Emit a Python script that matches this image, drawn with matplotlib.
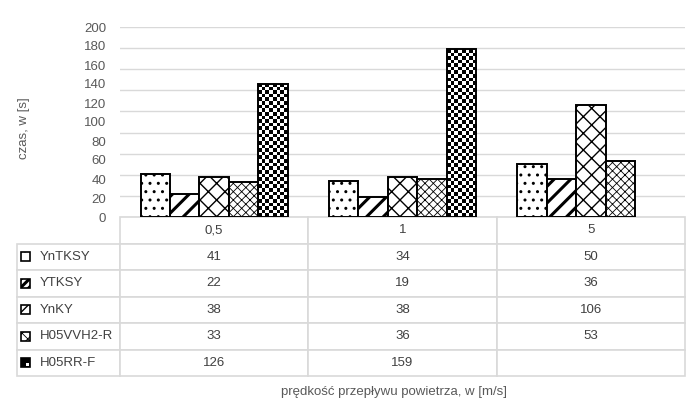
import matplotlib
matplotlib.use("Agg")
import matplotlib.pyplot as plt
import numpy as np
from matplotlib.patches import Rectangle
from matplotlib.table import Table

plt.rcParams['font.family'] = ['Liberation Sans', 'DejaVu Sans']

speeds = ["0,5", "1", "5"]
cables = ["YnTKSY", "YTKSY", "YnKY", "H05VVH2-R", "H05RR-F"]
yntksy = [41, 34, 50]
ytksy = [22, 19, 36]
ynky = [38, 38, 106]
h05vvh2 = [33, 36, 53]
h05rrf = [126, 159, np.nan]
series = [yntksy, ytksy, ynky, h05vvh2, h05rrf]

# tick labels as printed on the original (squeezed 0..200 over the 0..180 grid)
ytick_labels = ["0", "20", "40", "60", "80", "100", "120", "140", "160", "180", "200"]

hatches = ["..", "//", "xx", "xxxx", None]
hatch_lw = [1.0, 2.2, 1.0, 0.6, 1.0]
key_hatches = [".", "////", "/", "xxx", None]

grey = "#595959"
grid_c = "#d9d9d9"
fs = 9.5

fig = plt.figure(figsize=(7, 4.2), dpi=100)
ax = fig.add_axes([120 / 700, 1 - 217 / 420, 565 / 700, 190 / 420])

x = np.arange(len(speeds))
group_w = 0.78
bw = group_w / len(cables)

for g in np.arange(0, 181, 20):
    ax.axhline(g, color=grid_c, lw=1, zorder=0)

for i, (vals, h) in enumerate(zip(series, hatches)):
    xs = x - group_w / 2 + bw * (i + 0.5)
    if h is None:
        bars = ax.bar(xs, vals, bw, facecolor="none", edgecolor="black",
                      lw=1.4, zorder=3)
        for b in bars:
            ht = b.get_height()
            if not np.isfinite(ht) or ht <= 0:
                continue
            nr = max(int(round(ht / 3.4)), 1)
            checker = np.indices((nr, 8)).sum(axis=0) % 2
            im = ax.imshow(checker, cmap="gray", extent=[b.get_x(), b.get_x() + b.get_width(), 0, ht],
                           aspect="auto", interpolation="nearest", zorder=2.5)
            im.set_clip_path(b)
    else:
        bars = ax.bar(xs, vals, bw, facecolor="white", edgecolor="black",
                      lw=1.4, hatch=h, zorder=3)
        for b in bars:
            if hasattr(b, "set_hatch_linewidth"):
                b.set_hatch_linewidth(hatch_lw[i])

ax.set_xlim(-0.5, 2.5)
ax.set_ylim(0, 180)
ax.set_yticks(np.linspace(0, 180, len(ytick_labels)))
ax.set_yticklabels(ytick_labels)
ax.tick_params(axis="y", length=0, pad=10, labelsize=fs, labelcolor=grey)
ax.set_xticks([])
for s in ax.spines.values():
    s.set_visible(False)

# data table under the plot (bbox covers the value cells only)
tbl = Table(ax, bbox=[0, -159 / 190, 1, 159 / 190])
lab_w = 103 / 565
col_w = 1 / 3
row_hh = 1 / 6
for j, sp in enumerate(speeds):
    tbl.add_cell(0, j, col_w, row_hh, text=sp, loc="center")
for i, vals in enumerate(series):
    tbl.add_cell(i + 1, -1, lab_w, row_hh, text="")
    for j, v in enumerate(vals):
        tbl.add_cell(i + 1, j, col_w, row_hh,
                     text="" if np.isnan(v) else str(int(v)), loc="center")
tbl.auto_set_font_size(False)
tbl.set_fontsize(fs)
for (r, c), cell in tbl.get_celld().items():
    cell.set_edgecolor(grid_c)
    cell.set_linewidth(1.2)
    cell.get_text().set_color("#404040")
ax.add_table(tbl)

# row labels with small pattern keys
row_h = 159 / 6 / 190
for i, name in enumerate(cables):
    yc = -(i + 1.5) * row_h
    ax.text(-80 / 565, yc, name, ha="left", va="center", fontsize=fs,
            color="#404040", transform=ax.transAxes, clip_on=False)
    kh = key_hatches[i]
    sw = Rectangle((-99 / 565, yc - 4.5 / 190), 9 / 565, 9 / 190,
                   transform=ax.transAxes, clip_on=False,
                   facecolor="white" if kh else "black",
                   edgecolor="black", lw=1.2, hatch=kh)
    if kh and hasattr(sw, "set_hatch_linewidth"):
        sw.set_hatch_linewidth(hatch_lw[i])
    ax.add_patch(sw)
    if kh is None:
        ax.add_patch(Rectangle((-94.5 / 565, yc - 3.5 / 190), 3.5 / 565, 3.5 / 190,
                               transform=ax.transAxes, clip_on=False,
                               facecolor="white", edgecolor="none"))

fig.text(24 / 700, 1 - 128 / 420, "czas, w [s]", rotation=90, ha="center",
         va="center", fontsize=fs, color=grey)
fig.text(394 / 700, 1 - 392 / 420, "prędkość przepływu powietrza, w [m/s]",
         ha="center", va="center", fontsize=fs, color=grey)

fig.savefig("out.png", dpi=100)
